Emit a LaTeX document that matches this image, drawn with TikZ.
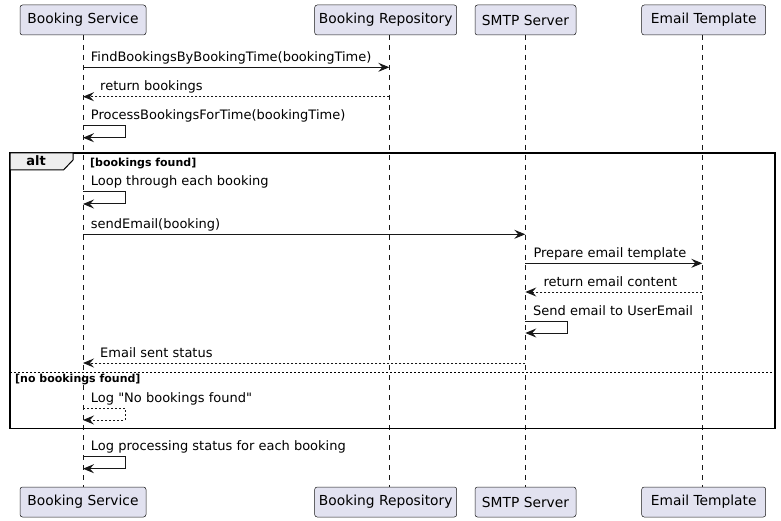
\documentclass[tikz,border=0pt]{standalone}
\usepackage{fontspec}
\setmainfont{DejaVu Sans}
\usetikzlibrary{arrows.meta}
\definecolor{partfill}{HTML}{E2E2F0}
\definecolor{lineblk}{HTML}{181818}
\definecolor{tabfill}{HTML}{EEEEEE}
\newcommand\straightq{\XeTeXglyph\XeTeXcharglyph"22\relax}
\tikzset{
  part/.style={draw=lineblk, fill=partfill, rounded corners=2.5pt, line width=0.5pt,
    minimum height=30pt, inner sep=0pt, font=\fontsize{13.8}{16}\selectfont, text=black},
  life/.style={draw=lineblk, dash pattern=on 5pt off 5pt, line width=0.5pt},
  msg/.style={draw=lineblk, line width=1pt, -{Stealth[length=11pt,width=9pt,inset=4pt]}},
  ret/.style={msg, dash pattern=on 2pt off 2pt},
  lbl/.style={anchor=base west, inner sep=0pt, font=\fontsize{13}{15}\selectfont, text=black},
  guard/.style={anchor=base west, inner sep=0pt, font=\fontsize{11}{13}\selectfont\bfseries, text=black},
  frame/.style={draw=black, line width=1.5pt},
}
\begin{document}
\begin{tikzpicture}[x=1pt,y=-1pt]
\useasboundingbox (0,0) rectangle (781,521);
% participants
\node[part, minimum width=126pt] (bsT) at (83,20) {Booking Service};
\node[part, minimum width=142pt] (brT) at (385.7,20) {Booking Repository};
\node[part, minimum width=101pt] (smT) at (525.5,20) {SMTP Server};
\node[part, minimum width=124pt] (etT) at (703.7,20) {Email Template};
\node[part, minimum width=126pt] (bsB) at (83,502) {Booking Service};
\node[part, minimum width=142pt] (brB) at (385.7,502) {Booking Repository};
\node[part, minimum width=101pt] (smB) at (525.5,502) {SMTP Server};
\node[part, minimum width=124pt] (etB) at (703.7,502) {Email Template};
% lifeline coordinates
\coordinate (bs) at (83,35);   \coordinate (bsE) at (83,487);
\coordinate (br) at (389.3,35); \coordinate (brE) at (389.3,487);
\coordinate (sm) at (525.3,35); \coordinate (smE) at (525.3,487);
\coordinate (et) at (702.3,35); \coordinate (etE) at (702.3,487);
\draw[life] (bs) -- (bsE);
\draw[life] (br) -- (brE);
\draw[life] (sm) -- (smE);
\draw[life] (et) -- (etE);
% alt frame
\draw[frame] (10,153) rectangle (775,428.3);
\draw[draw=black, line width=1pt, fill=tabfill] (10,153) -- (73,153) -- (73,160) -- (63.5,170) -- (10,170) -- cycle;
\node[anchor=base, inner sep=0pt, font=\fontsize{13}{15}\selectfont\bfseries] (altlbl) at (36,166) {alt};
\node[guard] (g1) at (90,166.5) {[bookings found]};
\draw[draw=black, line width=1pt, dash pattern=on 2pt off 2pt] (10,372.3) -- (775,372.3);
\node[guard] (g2) at (15,382.5) {[no bookings found]};
% messages
\node[lbl] (t1) at (90.7,61.5) {FindBookingsByBookingTime(bookingTime)};
\draw[msg] (bs |- 0,67.3) -- (br |- 0,67.3);
\node[lbl] (t2) at (100,90.8) {return bookings};
\draw[ret] (br |- 0,96.7) -- (bs |- 0,96.7);
\node[lbl] (t3) at (90.7,119.8) {ProcessBookingsForTime(bookingTime)};
\draw[msg] (bs |- 0,125.7) -- ++(42,0) -- ++(0,12) -- (bs |- 0,137.7);
\node[lbl] (t4) at (90.7,186) {Loop through each booking};
\draw[msg] (bs |- 0,192) -- ++(42,0) -- ++(0,12) -- (bs |- 0,204);
\node[lbl] (t5) at (90.7,228.4) {sendEmail(booking)};
\draw[msg] (bs |- 0,234.3) -- (sm |- 0,234.3);
\node[lbl] (t6) at (533.3,257.4) {Prepare email template};
\draw[msg] (sm |- 0,263.3) -- (et |- 0,263.3);
\node[lbl] (t7) at (543.3,286.1) {return email content};
\draw[ret] (et |- 0,292) -- (sm |- 0,292);
\node[lbl] (t8) at (533,315.1) {Send email to UserEmail};
\draw[msg] (sm |- 0,321) -- ++(42,0) -- ++(0,12) -- (sm |- 0,333);
\node[lbl] (t9) at (100,357.1) {Email sent status};
\draw[ret] (sm |- 0,363) -- (bs |- 0,363);
\node[lbl] (t10) at (90.7,402) {Log \straightq No bookings found\straightq};
\draw[ret] (bs |- 0,408) -- ++(42,0) -- ++(0,12) -- (bs |- 0,420);
\node[lbl] (t11) at (90.7,450.8) {Log processing status for each booking};
\draw[msg] (bs |- 0,456.7) -- ++(42,0) -- ++(0,12) -- (bs |- 0,468.7);
\end{tikzpicture}
\end{document}
